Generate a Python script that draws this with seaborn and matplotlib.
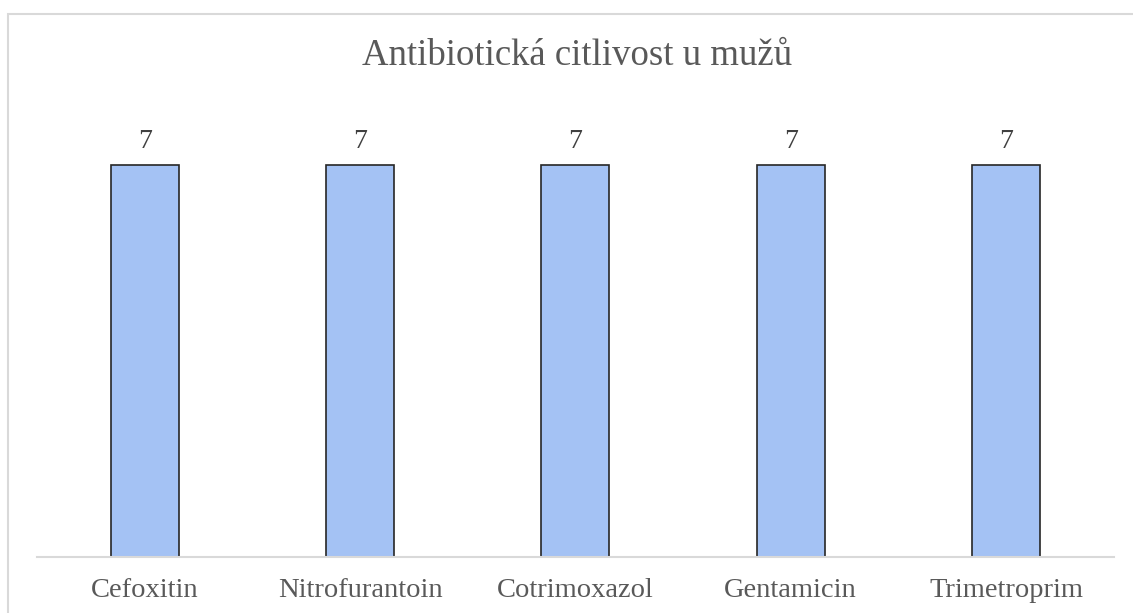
import matplotlib
matplotlib.use("Agg")
import matplotlib.pyplot as plt
import seaborn as sns
import pandas as pd
from matplotlib.patches import Rectangle

antibiotics = ["Cefoxitin", "Nitrofurantoin", "Cotrimoxazol", "Gentamicin", "Trimetroprim"]
counts = [7, 7, 7, 7, 7]
title = "Antibiotická citlivost u mužů"

df = pd.DataFrame({"antibiotic": antibiotics, "count": counts})

sns.set_theme(style="white")
plt.rcParams["font.family"] = ["Liberation Serif", "DejaVu Serif"]
text_col = "#595959"

fig = plt.figure(figsize=(11.33, 6.13), dpi=100)
ax = fig.add_axes([0.0327, 0.0914, 0.9503, 0.7306])

sns.barplot(data=df, x="antibiotic", y="count", color="#A4C2F4", width=0.315,
            edgecolor="#262626", linewidth=1.2, saturation=1, ax=ax)

# data labels above the bars
for i, v in enumerate(counts):
    ax.annotate(str(v), (i, v), xytext=(0, 12.5), textcoords="offset points",
                ha="center", va="baseline", fontsize=20, color="#404040")

ax.set_ylim(0, 8)
ax.set_xlim(-0.5, len(antibiotics) - 0.5)
ax.set_yticks([])
ax.set_xlabel("")
ax.set_ylabel("")
ax.tick_params(axis="x", labelsize=20.5, colors=text_col, length=0, pad=15)
for s in ["top", "right", "left"]:
    ax.spines[s].set_visible(False)
ax.spines["bottom"].set_color("#d9d9d9")
ax.spines["bottom"].set_linewidth(1.5)

fig.text(0.509, 0.894, title, ha="center", va="baseline", fontsize=26.5, color=text_col)

# chart frame, cut off at right and bottom like the source
fig.patches.append(Rectangle((0.007, -0.05), 1.05, 0.977 + 0.05, transform=fig.transFigure,
                             fill=False, edgecolor="#d9d9d9", linewidth=1.5))

fig.savefig("out.png", dpi=100)
